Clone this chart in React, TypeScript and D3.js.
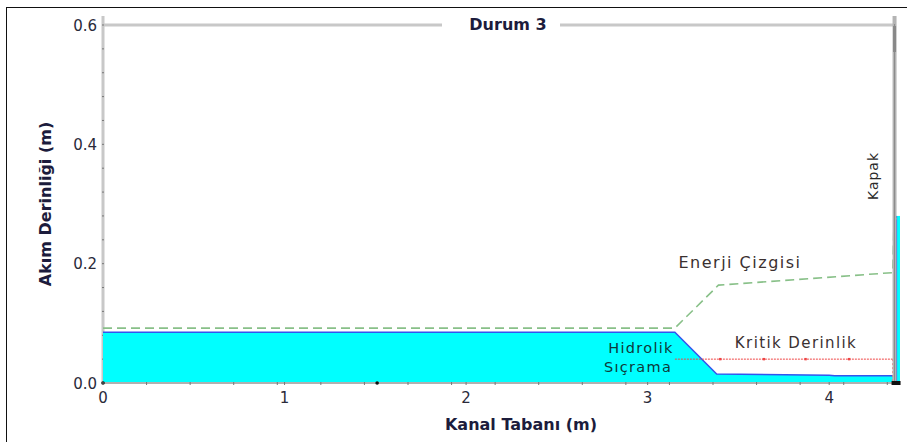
import React from "react";
import * as d3 from "d3";

const xTicks = [0, 1, 2, 3, 4];
const yTicks = [0.0, 0.2, 0.4, 0.6];
const yTickLabels = ["0.0", "0.2", "0.4", "0.6"];

// water surface (downstream of gate), x in m, depth in m
const waterX = [0, 3.15, 3.38, 4.0, 4.03, 4.355];
const waterD = [0.085, 0.085, 0.015, 0.013, 0.012, 0.012];
// upstream of gate
const upX = [4.37, 4.39];
const upD = [0.28, 0.28];
// energy line
const energyX = [0, 3.15, 3.39, 4.35, 4.357, 4.37, 4.39];
const energyD = [0.092, 0.092, 0.164, 0.185, 0.27, 0.277, 0.278];
// critical depth
const critX = [3.15, 4.35];
const critD = [0.04, 0.04];
const critMarks = [3.4, 3.64, 3.87, 4.11];
const gateX = 4.36;

const W = 907, H = 442;
const x = d3.scaleLinear().domain([0, 4.39]).range([103, 900]);
const y = d3.scaleLinear().domain([0, 0.6]).range([383, 25]);

export default function App() {
  const area = d3.area<[number, number]>().x(d => x(d[0])).y0(y(0)).y1(d => y(d[1]));
  const line = d3.line<[number, number]>().x(d => x(d[0])).y(d => y(d[1]));
  const water: [number, number][] = waterX.map((v, i) => [v, waterD[i]]);
  const up: [number, number][] = upX.map((v, i) => [v, upD[i]]);
  const energy: [number, number][] = energyX.map((v, i) => [v, energyD[i]]);
  const crit: [number, number][] = critX.map((v, i) => [v, critD[i]]);
  const yMinor = d3.range(0, 0.61, 0.04);
  const xMinor = d3.range(0.24, 4.39, 0.24);
  const tickColor = "#2a2a3a";
  const font = "'DejaVu Sans', Verdana, sans-serif";
  return (
    <svg width={W} height={H} style={{ position: "fixed", left: 0, top: 0, background: "#fff" }} fontFamily={font}>
      <rect x={6.5} y={7.5} width={910} height={450} fill="none" stroke="#111" strokeWidth={1} />
      {/* top frame line with title gap */}
      <line x1={x(0)} x2={442} y1={y(0.6)} y2={y(0.6)} stroke="#c8c8c8" strokeWidth={3} />
      <line x1={560} x2={x(gateX)} y1={y(0.6)} y2={y(0.6)} stroke="#c8c8c8" strokeWidth={3} />
      <text x={508} y={25} textAnchor="middle" dominantBaseline="middle" fontSize={16} fontWeight="bold" fill="#1c1c3c">Durum 3</text>
      {/* y axis */}
      <line x1={x(0)} x2={x(0)} y1={16} y2={y(0)} stroke="#c8c8c8" strokeWidth={3} />
      {yMinor.map((v, i) => (
        <line key={"ym" + i} x1={x(0) - 1} x2={x(0) + 1} y1={y(v)} y2={y(v)} stroke="#777" strokeWidth={1} />
      ))}
      {yTicks.map((v, i) => (
        <text key={"yt" + i} x={97} y={y(v) + 1} textAnchor="end" dominantBaseline="middle" fontSize={15} fill={tickColor}>{yTickLabels[i]}</text>
      ))}
      {/* water */}
      <path d={area(water) || ""} fill="#00ffff" />
      <path d={line(water) || ""} fill="none" stroke="#3355ee" strokeWidth={1.5} />
      <path d={area(up) || ""} fill="#00ffff" />
      <line x1={x(upX[0])} x2={x(upX[0])} y1={y(0)} y2={y(upD[0])} stroke="#3355ee" strokeWidth={1.5} />
      {/* x axis */}
      <line x1={x(0)} x2={x(4.39)} y1={y(0)} y2={y(0)} stroke="#b0b0b0" strokeWidth={2} />
      {xMinor.map((v, i) => (
        <line key={"xm" + i} x1={x(v)} x2={x(v)} y1={y(0) - 1} y2={y(0) + 2} stroke="#777" strokeWidth={1} />
      ))}
      <circle cx={x(0)} cy={y(0)} r={1.8} fill="#111" />
      <circle cx={x(1.51)} cy={y(0)} r={1.8} fill="#111" />
      {xTicks.map((v, i) => (
        <g key={"xt" + i}>
          <line x1={x(v)} x2={x(v)} y1={y(0) - 1} y2={y(0) + 2} stroke="#777" strokeWidth={1} />
          <text x={x(v)} y={398} textAnchor="middle" dominantBaseline="middle" fontSize={15} fill={tickColor}>{v}</text>
        </g>
      ))}
      {/* energy line */}
      <path d={line(energy) || ""} fill="none" stroke="#88c088" strokeWidth={1.6} strokeDasharray="9,5" />
      {/* critical depth */}
      <path d={line(crit) || ""} fill="none" stroke="#ee4444" strokeWidth={1} strokeDasharray="2,1" />
      {critMarks.map((v, i) => (
        <rect key={"cm" + i} x={x(v) - 1.2} y={y(0.04) - 1.2} width={2.4} height={2.4} fill="#ee4444" />
      ))}
      <line x1={x(4.35)} x2={x(4.35)} y1={y(0.04)} y2={y(0)} stroke="#ee6666" strokeWidth={1} strokeDasharray="2,2" />
      {/* gate */}
      <line x1={x(gateX)} x2={x(gateX)} y1={16} y2={y(0)} stroke="#b4b4b4" strokeWidth={4} />
      <line x1={x(gateX)} x2={x(gateX)} y1={24} y2={y(0)} stroke="#8a8a8a" strokeWidth={1} />
      <line x1={x(gateX)} x2={x(gateX)} y1={26} y2={52} stroke="#888" strokeWidth={3} />
      <rect x={x(gateX) - 3} y={y(0) - 2} width={9} height={4} fill="#111" />
      {/* labels */}
      <text transform={`translate(878,176) rotate(-90)`} textAnchor="middle" fontSize={14} letterSpacing={1} fill="#2a2a2a">Kapak</text>
      <text x={740} y={268} textAnchor="middle" fontSize={16} letterSpacing={1.5} fill="#3a3030">Enerji Çizgisi</text>
      <text x={796} y={348} textAnchor="middle" fontSize={15} letterSpacing={1.4} fill="#3a3030">Kritik Derinlik</text>
      <text x={641} y={353} textAnchor="middle" fontSize={14.5} letterSpacing={1.3} fill="#0e3a3a">Hidrolik</text>
      <text x={638} y={372} textAnchor="middle" fontSize={14.5} letterSpacing={1.3} fill="#0e3a3a">Sıçrama</text>
      <text transform={`translate(51,204) rotate(-90)`} textAnchor="middle" fontSize={16} fontWeight="bold" fill="#1c1c3c">Akım Derinliği (m)</text>
      <text x={521} y={430} textAnchor="middle" fontSize={16} fontWeight="bold" fill="#1c1c3c">Kanal Tabanı (m)</text>
    </svg>
  );
}
